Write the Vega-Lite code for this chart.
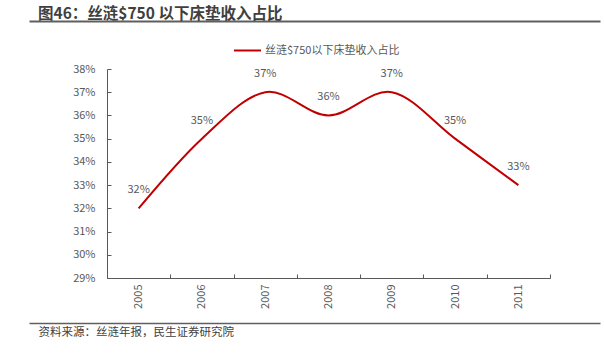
{
  "$schema": "https://vega.github.io/schema/vega-lite/v6.json",
  "width": 443,
  "height": 209,
  "autosize": {"type": "none"},
  "padding": {"left": 107, "top": 69, "right": 54, "bottom": 77},
  "background": "white",
  "config": {
    "view": {"stroke": null},
    "font": "Noto Sans CJK SC",
    "axis": {"labelFont": "Noto Sans CJK SC", "titleFont": "Noto Sans CJK SC", "labelColor": "#595959", "labelFontSize": 11, "grid": false}
  },
  "title": {
    "text": "图46：丝涟$750 以下床垫收入占比",
    "anchor": "start",
    "frame": "group",
    "dx": -69,
    "offset": -1,
    "fontSize": 15.5,
    "fontWeight": "bold",
    "color": "#404040",
    "font": "Noto Sans CJK SC"
  },
  "datasets": {
    "main": [
      {"year": "2005", "value": 0.32, "label": "32%", "series": "丝涟$750以下床垫收入占比"},
      {"year": "2006", "value": 0.35, "label": "35%", "series": "丝涟$750以下床垫收入占比"},
      {"year": "2007", "value": 0.37, "label": "37%", "series": "丝涟$750以下床垫收入占比"},
      {"year": "2008", "value": 0.36, "label": "36%", "series": "丝涟$750以下床垫收入占比"},
      {"year": "2009", "value": 0.37, "label": "37%", "series": "丝涟$750以下床垫收入占比"},
      {"year": "2010", "value": 0.35, "label": "35%", "series": "丝涟$750以下床垫收入占比"},
      {"year": "2011", "value": 0.33, "label": "33%", "series": "丝涟$750以下床垫收入占比"}
    ],
    "frame": [{"p": 0}, {"p": 1}]
  },
  "layer": [
    {
      "data": {"name": "main"},
      "encoding": {
        "x": {
          "field": "year", "type": "ordinal", "bandPosition": 0.5,
          "scale": {"type": "band", "paddingInner": 0, "paddingOuter": 0},
          "axis": {
            "orient": "bottom", "title": null, "labelAngle": 270, "labelAlign": "right", "labelBaseline": "middle",
            "tickBand": "extent", "tickSize": -4, "labelPadding": 10,
            "domainColor": "#595959", "tickColor": "#595959", "domainWidth": 1
          }
        },
        "y": {
          "field": "value", "type": "quantitative",
          "scale": {"domain": [0.29, 0.38], "nice": false, "zero": false},
          "axis": {
            "title": null, "format": ".0%", "values": [0.29, 0.30, 0.31, 0.32, 0.33, 0.34, 0.35, 0.36, 0.37, 0.38],
            "tickSize": -4, "labelPadding": 16, "domainColor": "#595959", "tickColor": "#595959"
          }
        }
      },
      "layer": [
        {
          "mark": {"type": "line", "interpolate": "cardinal", "strokeWidth": 2},
          "encoding": {
            "color": {
              "field": "series", "type": "nominal",
              "scale": {"range": ["#C00000"]},
              "legend": {
                "title": null, "orient": "none", "legendX": 126, "legendY": -33,
                "symbolType": "stroke", "symbolSize": 729, "symbolStrokeWidth": 2,
                "labelFontSize": 11, "labelColor": "#595959", "labelFont": "Noto Sans CJK SC", "labelOffset": 3
              }
            }
          }
        },
        {
          "mark": {"type": "text", "dy": -18, "fontSize": 11, "color": "#595959", "font": "Noto Sans CJK SC"},
          "encoding": {"text": {"field": "label"}}
        }
      ]
    },
    {
      "data": {"name": "frame"},
      "mark": {"type": "point", "opacity": 0},
      "encoding": {
        "x": {
          "field": "p", "type": "quantitative",
          "scale": {"domain": [0, 1], "range": [-78, 493], "nice": false, "zero": false},
          "axis": {"orient": "top", "offset": 48, "labels": false, "ticks": false, "title": null, "domainColor": "#5f5f5f", "domainWidth": 2}
        }
      }
    },
    {
      "data": {"name": "frame"},
      "mark": {"type": "point", "opacity": 0},
      "encoding": {
        "x": {
          "field": "p", "type": "quantitative",
          "scale": {"domain": [0, 1], "range": [-78, 493], "nice": false, "zero": false},
          "axis": {
            "orient": "bottom", "offset": 45, "labels": false, "ticks": false, "domainColor": "#5f5f5f", "domainWidth": 1.5,
            "title": "资料来源：丝涟年报，民生证券研究院", "titleAnchor": "start", "titleAlign": "left", "titleX": -69,
            "titleFontSize": 11.5, "titleFontWeight": "normal", "titleColor": "#404040", "titlePadding": 3
          }
        }
      }
    }
  ],
  "resolve": {"scale": {"x": "independent", "color": "independent"}, "axis": {"x": "independent"}}
}
